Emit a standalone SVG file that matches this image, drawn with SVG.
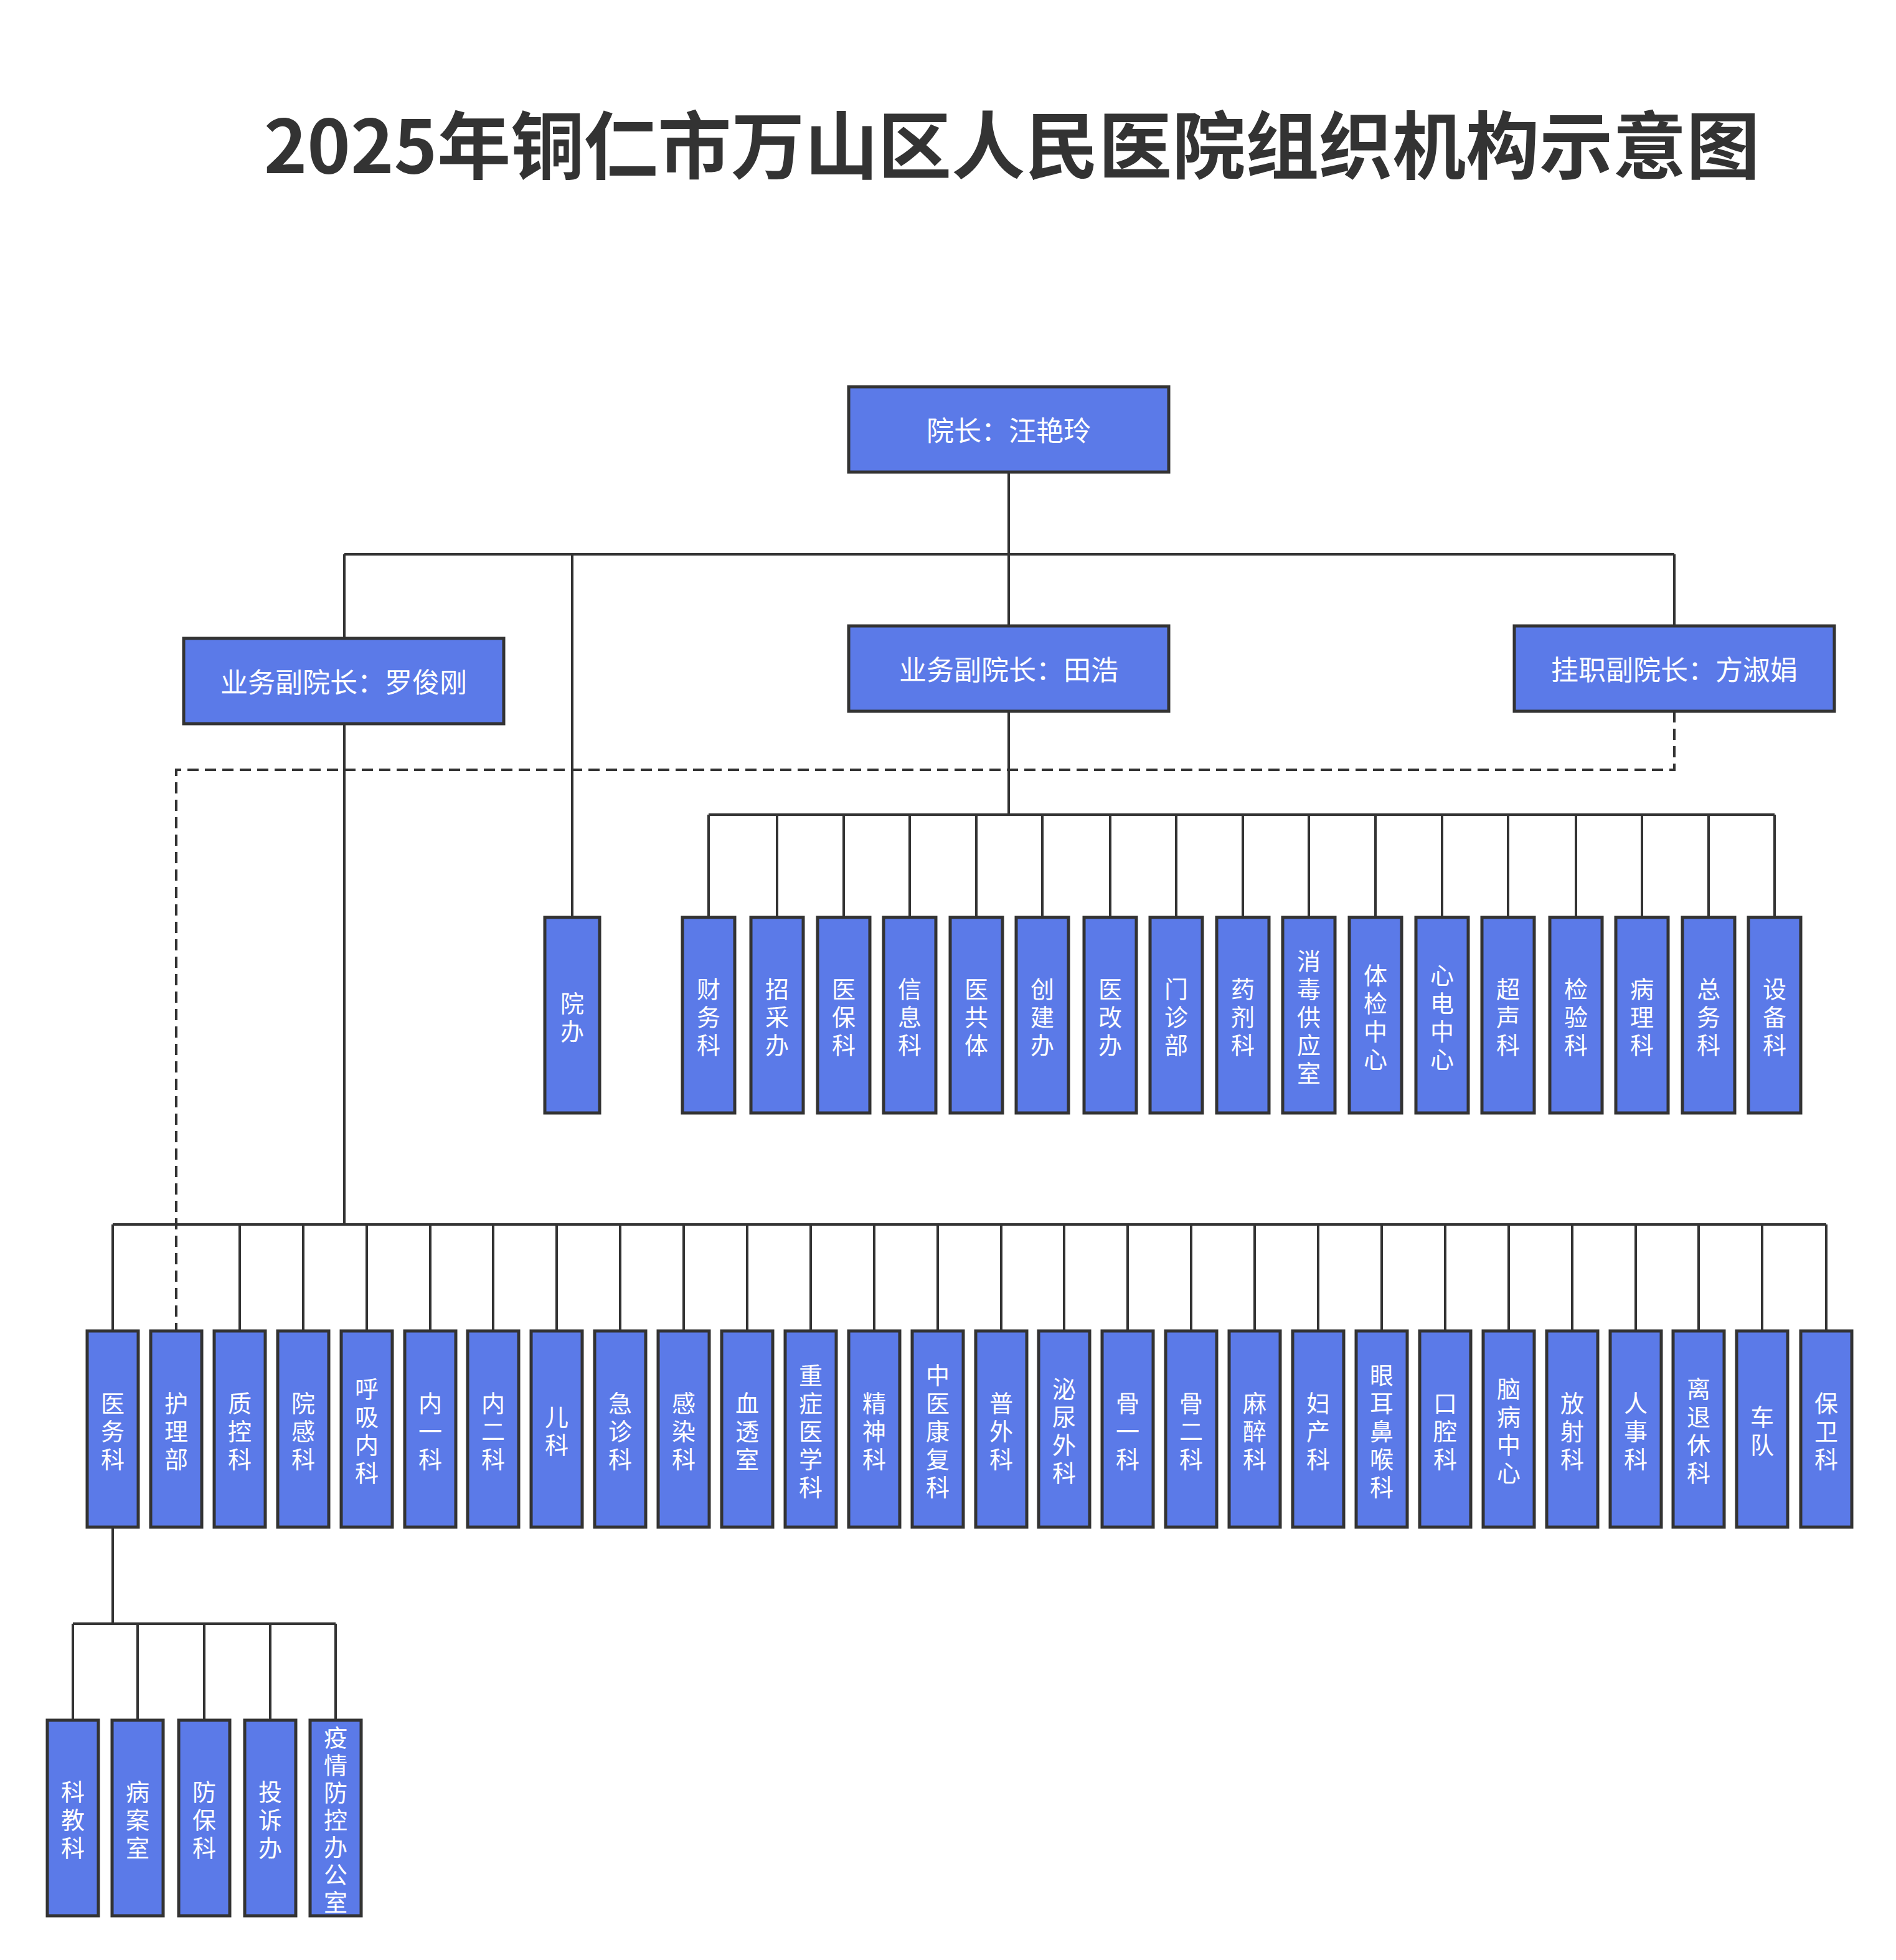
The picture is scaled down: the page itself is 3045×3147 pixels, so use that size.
<svg xmlns="http://www.w3.org/2000/svg" width="3045" height="3147" viewBox="0 0 3045 3147">
<style>
.b{fill:#5b7ae8;stroke:#333;stroke-width:5}
.t{fill:#fff;font-family:"Noto Sans CJK SC","Noto Sans",sans-serif;font-size:38px;text-anchor:middle;dominant-baseline:central}
.h{font-size:44px}
.c{fill:none;stroke:#333;stroke-width:4}
.d{fill:none;stroke:#333;stroke-width:4;stroke-dasharray:18 10}
</style>
<rect width="3045" height="3147" fill="#fff"/>
<text x="1625" y="226" text-anchor="middle" dominant-baseline="central" font-family="'Noto Sans CJK SC','Noto Sans',sans-serif" font-weight="bold" font-size="118" fill="#333">2025年铜仁市万山区人民医院组织机构示意图</text>
<g id="connectors">
<path class="c" d="M1620 758V890M553 890H2689M553 890V1025M919 890V1473M1620 890V1005M2689 890V1005"/>
<path class="c" d="M1620 1142V1308M1138 1308H2850M1138 1308V1473M1248 1308V1473M1355 1308V1473M1461 1308V1473M1568 1308V1473M1674 1308V1473M1783 1308V1473M1889 1308V1473M1996 1308V1473M2102 1308V1473M2209 1308V1473M2316 1308V1473M2422 1308V1473M2531 1308V1473M2637 1308V1473M2744 1308V1473M2850 1308V1473"/>
<path class="c" d="M553 1162V1966M181 1966H2933M181 1966V2137M385 1966V2137M487 1966V2137M589 1966V2137M691 1966V2137M792 1966V2137M894 1966V2137M996 1966V2137M1098 1966V2137M1200 1966V2137M1302 1966V2137M1404 1966V2137M1506 1966V2137M1608 1966V2137M1709 1966V2137M1811 1966V2137M1913 1966V2137M2015 1966V2137M2117 1966V2137M2219 1966V2137M2321 1966V2137M2423 1966V2137M2525 1966V2137M2627 1966V2137M2728 1966V2137M2830 1966V2137M2933 1966V2137"/>
<path class="d" d="M2689 1142V1236H283V2137"/>
<path class="c" d="M181 2452V2607M117 2607H539M117 2607V2762M221 2607V2762M328 2607V2762M434 2607V2762M539 2607V2762"/>
</g>
<g id="n-yz"><rect class="b" x="1363" y="621" width="514" height="137"/><text class="t h" x="1620" y="689">院长：汪艳玲</text></g>
<g id="n-ljg"><rect class="b" x="295" y="1025" width="514" height="137"/><text class="t h" x="552" y="1093">业务副院长：罗俊刚</text></g>
<g id="n-th"><rect class="b" x="1363" y="1005" width="514" height="137"/><text class="t h" x="1620" y="1073">业务副院长：田浩</text></g>
<g id="n-fsj"><rect class="b" x="2432" y="1005" width="514" height="137"/><text class="t h" x="2689" y="1073">挂职副院长：方淑娟</text></g>
<g id="n-yb"><rect class="b" x="875" y="1473" width="88" height="314"/><text class="t" x="919"><tspan x="919" y="1608">院</tspan><tspan x="919" y="1653">办</tspan></text></g>
<g id="top-row">
<g id="n-cwk"><rect class="b" x="1096" y="1473" width="84" height="314"/><text class="t"><tspan x="1138" y="1585">财</tspan><tspan x="1138" y="1630">务</tspan><tspan x="1138" y="1675">科</tspan></text></g>
<g id="n-zcb"><rect class="b" x="1206" y="1473" width="84" height="314"/><text class="t"><tspan x="1248" y="1585">招</tspan><tspan x="1248" y="1630">采</tspan><tspan x="1248" y="1675">办</tspan></text></g>
<g id="n-ybk"><rect class="b" x="1313" y="1473" width="84" height="314"/><text class="t"><tspan x="1355" y="1585">医</tspan><tspan x="1355" y="1630">保</tspan><tspan x="1355" y="1675">科</tspan></text></g>
<g id="n-xxk"><rect class="b" x="1419" y="1473" width="84" height="314"/><text class="t"><tspan x="1461" y="1585">信</tspan><tspan x="1461" y="1630">息</tspan><tspan x="1461" y="1675">科</tspan></text></g>
<g id="n-ygt"><rect class="b" x="1526" y="1473" width="84" height="314"/><text class="t"><tspan x="1568" y="1585">医</tspan><tspan x="1568" y="1630">共</tspan><tspan x="1568" y="1675">体</tspan></text></g>
<g id="n-cjb"><rect class="b" x="1632" y="1473" width="84" height="314"/><text class="t"><tspan x="1674" y="1585">创</tspan><tspan x="1674" y="1630">建</tspan><tspan x="1674" y="1675">办</tspan></text></g>
<g id="n-ygb"><rect class="b" x="1741" y="1473" width="84" height="314"/><text class="t"><tspan x="1783" y="1585">医</tspan><tspan x="1783" y="1630">改</tspan><tspan x="1783" y="1675">办</tspan></text></g>
<g id="n-mzb"><rect class="b" x="1847" y="1473" width="84" height="314"/><text class="t"><tspan x="1889" y="1585">门</tspan><tspan x="1889" y="1630">诊</tspan><tspan x="1889" y="1675">部</tspan></text></g>
<g id="n-yjk"><rect class="b" x="1954" y="1473" width="84" height="314"/><text class="t"><tspan x="1996" y="1585">药</tspan><tspan x="1996" y="1630">剂</tspan><tspan x="1996" y="1675">科</tspan></text></g>
<g id="n-xdgys"><rect class="b" x="2060" y="1473" width="84" height="314"/><text class="t"><tspan x="2102" y="1540">消</tspan><tspan x="2102" y="1585">毒</tspan><tspan x="2102" y="1630">供</tspan><tspan x="2102" y="1675">应</tspan><tspan x="2102" y="1720">室</tspan></text></g>
<g id="n-tjzx"><rect class="b" x="2167" y="1473" width="84" height="314"/><text class="t"><tspan x="2209" y="1563">体</tspan><tspan x="2209" y="1608">检</tspan><tspan x="2209" y="1653">中</tspan><tspan x="2209" y="1698">心</tspan></text></g>
<g id="n-xdzx"><rect class="b" x="2274" y="1473" width="84" height="314"/><text class="t"><tspan x="2316" y="1563">心</tspan><tspan x="2316" y="1608">电</tspan><tspan x="2316" y="1653">中</tspan><tspan x="2316" y="1698">心</tspan></text></g>
<g id="n-csk"><rect class="b" x="2380" y="1473" width="84" height="314"/><text class="t"><tspan x="2422" y="1585">超</tspan><tspan x="2422" y="1630">声</tspan><tspan x="2422" y="1675">科</tspan></text></g>
<g id="n-jyk"><rect class="b" x="2489" y="1473" width="84" height="314"/><text class="t"><tspan x="2531" y="1585">检</tspan><tspan x="2531" y="1630">验</tspan><tspan x="2531" y="1675">科</tspan></text></g>
<g id="n-blk"><rect class="b" x="2595" y="1473" width="84" height="314"/><text class="t"><tspan x="2637" y="1585">病</tspan><tspan x="2637" y="1630">理</tspan><tspan x="2637" y="1675">科</tspan></text></g>
<g id="n-zwk"><rect class="b" x="2702" y="1473" width="84" height="314"/><text class="t"><tspan x="2744" y="1585">总</tspan><tspan x="2744" y="1630">务</tspan><tspan x="2744" y="1675">科</tspan></text></g>
<g id="n-sbk"><rect class="b" x="2808" y="1473" width="84" height="314"/><text class="t"><tspan x="2850" y="1585">设</tspan><tspan x="2850" y="1630">备</tspan><tspan x="2850" y="1675">科</tspan></text></g>
</g>
<g id="bottom-row">
<g id="n-ywk"><rect class="b" x="140" y="2137" width="82" height="315"/><text class="t"><tspan x="181" y="2250">医</tspan><tspan x="181" y="2295">务</tspan><tspan x="181" y="2340">科</tspan></text></g>
<g id="n-hlb"><rect class="b" x="242" y="2137" width="82" height="315"/><text class="t"><tspan x="283" y="2250">护</tspan><tspan x="283" y="2295">理</tspan><tspan x="283" y="2340">部</tspan></text></g>
<g id="n-zkk"><rect class="b" x="344" y="2137" width="82" height="315"/><text class="t"><tspan x="385" y="2250">质</tspan><tspan x="385" y="2295">控</tspan><tspan x="385" y="2340">科</tspan></text></g>
<g id="n-ygk"><rect class="b" x="446" y="2137" width="82" height="315"/><text class="t"><tspan x="487" y="2250">院</tspan><tspan x="487" y="2295">感</tspan><tspan x="487" y="2340">科</tspan></text></g>
<g id="n-hxnk"><rect class="b" x="548" y="2137" width="82" height="315"/><text class="t"><tspan x="589" y="2227">呼</tspan><tspan x="589" y="2272">吸</tspan><tspan x="589" y="2317">内</tspan><tspan x="589" y="2362">科</tspan></text></g>
<g id="n-nyk"><rect class="b" x="650" y="2137" width="82" height="315"/><text class="t"><tspan x="691" y="2250">内</tspan><tspan x="691" y="2295">一</tspan><tspan x="691" y="2340">科</tspan></text></g>
<g id="n-nek"><rect class="b" x="751" y="2137" width="82" height="315"/><text class="t"><tspan x="792" y="2250">内</tspan><tspan x="792" y="2295">二</tspan><tspan x="792" y="2340">科</tspan></text></g>
<g id="n-ek"><rect class="b" x="853" y="2137" width="82" height="315"/><text class="t"><tspan x="894" y="2272">儿</tspan><tspan x="894" y="2317">科</tspan></text></g>
<g id="n-jzk"><rect class="b" x="955" y="2137" width="82" height="315"/><text class="t"><tspan x="996" y="2250">急</tspan><tspan x="996" y="2295">诊</tspan><tspan x="996" y="2340">科</tspan></text></g>
<g id="n-grk"><rect class="b" x="1057" y="2137" width="82" height="315"/><text class="t"><tspan x="1098" y="2250">感</tspan><tspan x="1098" y="2295">染</tspan><tspan x="1098" y="2340">科</tspan></text></g>
<g id="n-xts"><rect class="b" x="1159" y="2137" width="82" height="315"/><text class="t"><tspan x="1200" y="2250">血</tspan><tspan x="1200" y="2295">透</tspan><tspan x="1200" y="2340">室</tspan></text></g>
<g id="n-zzyxk"><rect class="b" x="1261" y="2137" width="82" height="315"/><text class="t"><tspan x="1302" y="2205">重</tspan><tspan x="1302" y="2250">症</tspan><tspan x="1302" y="2295">医</tspan><tspan x="1302" y="2340">学</tspan><tspan x="1302" y="2385">科</tspan></text></g>
<g id="n-jsk"><rect class="b" x="1363" y="2137" width="82" height="315"/><text class="t"><tspan x="1404" y="2250">精</tspan><tspan x="1404" y="2295">神</tspan><tspan x="1404" y="2340">科</tspan></text></g>
<g id="n-zykfk"><rect class="b" x="1465" y="2137" width="82" height="315"/><text class="t"><tspan x="1506" y="2205">中</tspan><tspan x="1506" y="2250">医</tspan><tspan x="1506" y="2295">康</tspan><tspan x="1506" y="2340">复</tspan><tspan x="1506" y="2385">科</tspan></text></g>
<g id="n-pwk"><rect class="b" x="1567" y="2137" width="82" height="315"/><text class="t"><tspan x="1608" y="2250">普</tspan><tspan x="1608" y="2295">外</tspan><tspan x="1608" y="2340">科</tspan></text></g>
<g id="n-mnwk"><rect class="b" x="1668" y="2137" width="82" height="315"/><text class="t"><tspan x="1709" y="2227">泌</tspan><tspan x="1709" y="2272">尿</tspan><tspan x="1709" y="2317">外</tspan><tspan x="1709" y="2362">科</tspan></text></g>
<g id="n-gyk"><rect class="b" x="1770" y="2137" width="82" height="315"/><text class="t"><tspan x="1811" y="2250">骨</tspan><tspan x="1811" y="2295">一</tspan><tspan x="1811" y="2340">科</tspan></text></g>
<g id="n-gek"><rect class="b" x="1872" y="2137" width="82" height="315"/><text class="t"><tspan x="1913" y="2250">骨</tspan><tspan x="1913" y="2295">二</tspan><tspan x="1913" y="2340">科</tspan></text></g>
<g id="n-mzk"><rect class="b" x="1974" y="2137" width="82" height="315"/><text class="t"><tspan x="2015" y="2250">麻</tspan><tspan x="2015" y="2295">醉</tspan><tspan x="2015" y="2340">科</tspan></text></g>
<g id="n-fck"><rect class="b" x="2076" y="2137" width="82" height="315"/><text class="t"><tspan x="2117" y="2250">妇</tspan><tspan x="2117" y="2295">产</tspan><tspan x="2117" y="2340">科</tspan></text></g>
<g id="n-yebhk"><rect class="b" x="2178" y="2137" width="82" height="315"/><text class="t"><tspan x="2219" y="2205">眼</tspan><tspan x="2219" y="2250">耳</tspan><tspan x="2219" y="2295">鼻</tspan><tspan x="2219" y="2340">喉</tspan><tspan x="2219" y="2385">科</tspan></text></g>
<g id="n-kqk"><rect class="b" x="2280" y="2137" width="82" height="315"/><text class="t"><tspan x="2321" y="2250">口</tspan><tspan x="2321" y="2295">腔</tspan><tspan x="2321" y="2340">科</tspan></text></g>
<g id="n-nbzx"><rect class="b" x="2382" y="2137" width="82" height="315"/><text class="t"><tspan x="2423" y="2227">脑</tspan><tspan x="2423" y="2272">病</tspan><tspan x="2423" y="2317">中</tspan><tspan x="2423" y="2362">心</tspan></text></g>
<g id="n-fsk"><rect class="b" x="2484" y="2137" width="82" height="315"/><text class="t"><tspan x="2525" y="2250">放</tspan><tspan x="2525" y="2295">射</tspan><tspan x="2525" y="2340">科</tspan></text></g>
<g id="n-rsk"><rect class="b" x="2586" y="2137" width="82" height="315"/><text class="t"><tspan x="2627" y="2250">人</tspan><tspan x="2627" y="2295">事</tspan><tspan x="2627" y="2340">科</tspan></text></g>
<g id="n-ltxk"><rect class="b" x="2687" y="2137" width="82" height="315"/><text class="t"><tspan x="2728" y="2227">离</tspan><tspan x="2728" y="2272">退</tspan><tspan x="2728" y="2317">休</tspan><tspan x="2728" y="2362">科</tspan></text></g>
<g id="n-cd"><rect class="b" x="2789" y="2137" width="82" height="315"/><text class="t"><tspan x="2830" y="2272">车</tspan><tspan x="2830" y="2317">队</tspan></text></g>
<g id="n-bwk"><rect class="b" x="2892" y="2137" width="82" height="315"/><text class="t"><tspan x="2933" y="2250">保</tspan><tspan x="2933" y="2295">卫</tspan><tspan x="2933" y="2340">科</tspan></text></g>
</g>
<g id="sub-row">
<g id="n-kjk"><rect class="b" x="76" y="2762" width="82" height="314"/><text class="t"><tspan x="117" y="2874">科</tspan><tspan x="117" y="2919">教</tspan><tspan x="117" y="2964">科</tspan></text></g>
<g id="n-bas"><rect class="b" x="180" y="2762" width="82" height="314"/><text class="t"><tspan x="221" y="2874">病</tspan><tspan x="221" y="2919">案</tspan><tspan x="221" y="2964">室</tspan></text></g>
<g id="n-fbk"><rect class="b" x="287" y="2762" width="82" height="314"/><text class="t"><tspan x="328" y="2874">防</tspan><tspan x="328" y="2919">保</tspan><tspan x="328" y="2964">科</tspan></text></g>
<g id="n-tsb"><rect class="b" x="393" y="2762" width="82" height="314"/><text class="t"><tspan x="434" y="2874">投</tspan><tspan x="434" y="2919">诉</tspan><tspan x="434" y="2964">办</tspan></text></g>
<g id="n-yqfk"><rect class="b" x="498" y="2762" width="82" height="314"/><text class="t"><tspan x="539" y="2787">疫</tspan><tspan x="539" y="2831">情</tspan><tspan x="539" y="2875">防</tspan><tspan x="539" y="2919">控</tspan><tspan x="539" y="2963">办</tspan><tspan x="539" y="3007">公</tspan><tspan x="539" y="3051">室</tspan></text></g>
</g>
</svg>
